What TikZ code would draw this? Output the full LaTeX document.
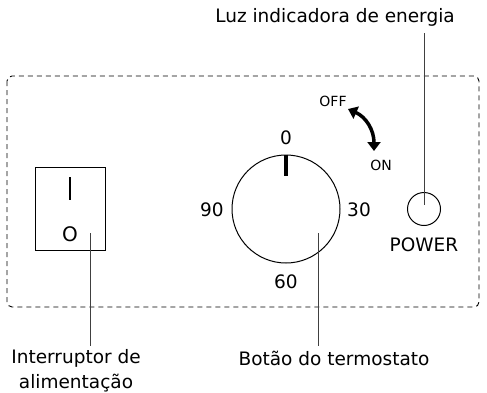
\documentclass[tikz,border=0pt]{standalone}
\usepackage{fontspec}
\setmainfont{DejaVu Sans}
\usetikzlibrary{arrows.meta}
\begin{document}
\begin{tikzpicture}[x=1pt,y=-1pt,
  lbl/.style={font=\fontsize{18.5}{25}\selectfont, inner sep=0pt, align=center},
  sml/.style={font=\fontsize{14}{16}\selectfont, inner sep=0pt},
  leader/.style={draw=black!75, line width=0.8pt},
  part/.style={draw=black, line width=1pt}]
\useasboundingbox (0,0) rectangle (487,392);
% dashed panel
\draw[line width=0.9pt, dash pattern=on 5pt off 4pt, rounded corners=5pt] (7,76) rectangle (479,307);
% switch
\node[part, minimum width=70pt, minimum height=83pt, inner sep=0pt] (sw) at (70,208.5) {};
\coordinate (swIt) at (70,177);
\coordinate (swIb) at (70,200);
\draw[line width=2pt] (swIt) -- (swIb);
\node[font=\fontsize{20}{24}\selectfont, inner sep=0pt] (swO) at (70,234.5) {O};
% dial
\node[part, circle, minimum size=108pt, inner sep=0pt] (dial) at (286,209) {};
\draw[line width=3.5pt] (dial.north) -- ++(0,21);
\node[lbl] (d0) at (286,138) {0};
\node[lbl] (d90) at (212,210) {90};
\node[lbl] (d30) at (359,210) {30};
\node[lbl] (d60) at (286,282) {60};
% off/on
\node[sml] (off) at (333,101) {OFF};
\node[sml] (on) at (381,165) {ON};
\draw[line width=3.5pt, {Triangle[length=9pt,width=13pt]}-{Triangle[length=9pt,width=13pt]}] (348,109) .. controls (366,117) and (374,130) .. (374,151);
% power light
\node[part, circle, minimum size=33pt, inner sep=0pt] (pw) at (424,209) {};
\node[lbl] (pwl) at (424,245) {POWER};
% labels
\node[lbl] (top) at (335,17) {Luz indicadora de energia};
\node[lbl] (lsw) at (76,370.5) {Interruptor de\\alimentação};
\node[lbl] (ldial) at (334,358) {Botão do termostato};
% leaders
\coordinate (swp) at (90,233);
\coordinate (swb) at (90,346);
\coordinate (dp) at (318,233);
\coordinate (db) at (318,346);
\coordinate (pt) at (424,33);
\coordinate (pp) at (424,205);
\draw[leader] (swp) -- (swb);
\draw[leader] (dp) -- (db);
\draw[leader] (pt) -- (pp);
\end{tikzpicture}
\end{document}
